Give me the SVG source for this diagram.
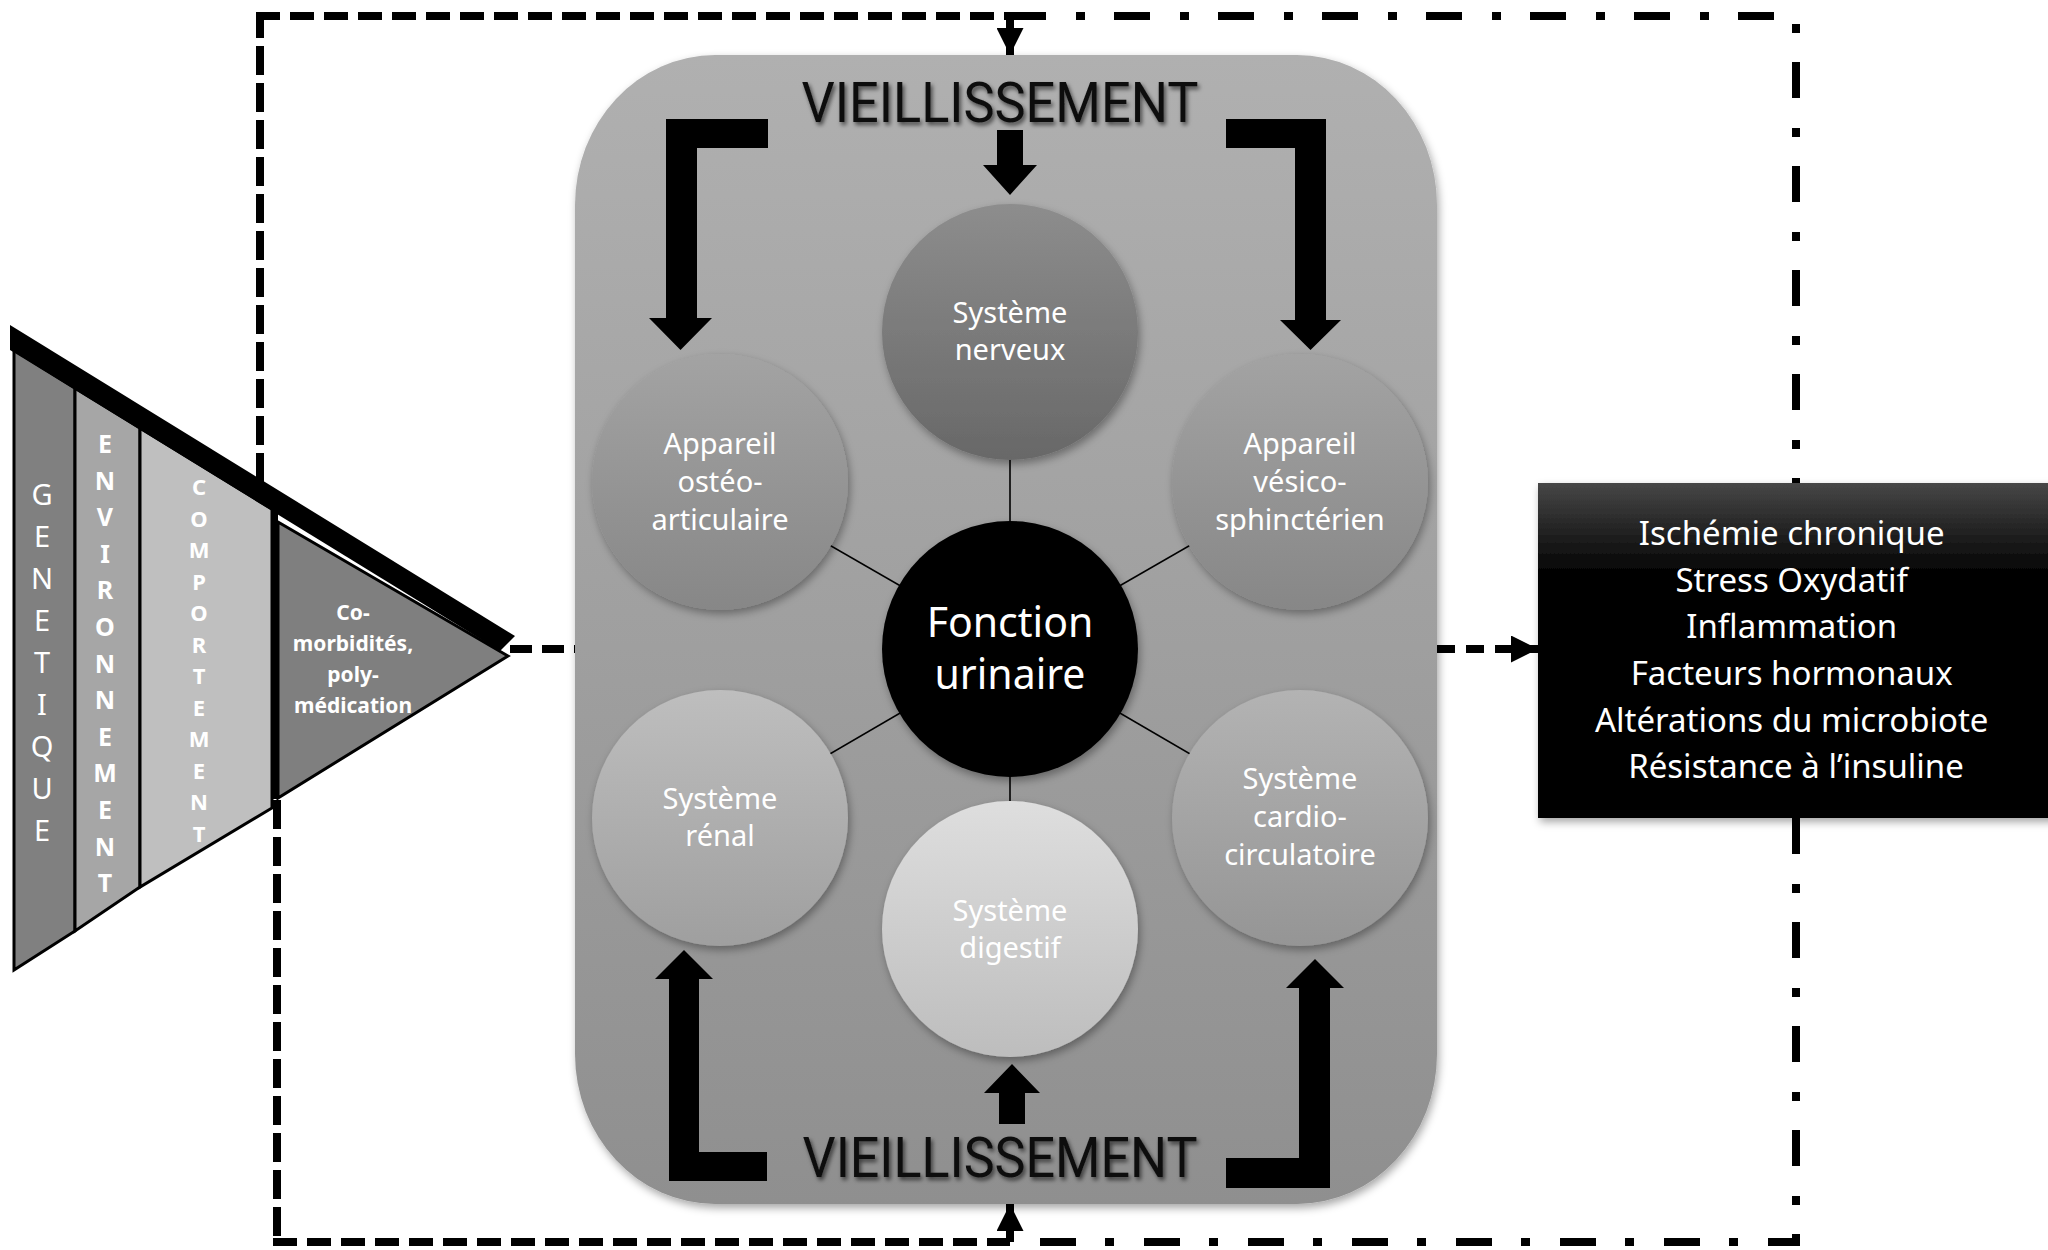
<svg xmlns="http://www.w3.org/2000/svg" width="2048" height="1250" viewBox="0 0 2048 1250">
<style>
.lbl{font-family:"Noto Sans","Open Sans",sans-serif;fill:#fff;text-anchor:middle}
.c{font-size:29px}
.big{font-size:41px}
.box{font-size:33px}
.vert{font-family:"Noto Sans","Open Sans",sans-serif;fill:#fff;text-anchor:middle}
.age{font-family:"Roboto","Liberation Sans",sans-serif;font-size:56px;fill:#111;text-anchor:middle}
.thin{stroke:#000;stroke-width:1.6;fill:none}
.loop{stroke:#000;stroke-width:8;fill:none}
.dh{stroke-dasharray:24 10}
.dv{stroke-dasharray:29 8}
.dd{stroke-dasharray:36 30 9 29}
.blk{fill:#000}
.col{stroke:#000;stroke-width:3;stroke-linejoin:miter}
</style>
<defs>
<linearGradient id="gBox" x1="0" y1="0" x2="0" y2="1"><stop offset="0" stop-color="#b0b0b0"/><stop offset="1" stop-color="#8f8f8f"/></linearGradient>
<linearGradient id="gNerv" x1="0" y1="0" x2="0" y2="1"><stop offset="0" stop-color="#8d8d8d"/><stop offset="1" stop-color="#686868"/></linearGradient>
<linearGradient id="gOst" x1="0" y1="0" x2="0" y2="1"><stop offset="0" stop-color="#a3a3a3"/><stop offset="1" stop-color="#878787"/></linearGradient>
<linearGradient id="gRen" x1="0" y1="0" x2="0" y2="1"><stop offset="0" stop-color="#bebebe"/><stop offset="1" stop-color="#9f9f9f"/></linearGradient>
<linearGradient id="gCar" x1="0" y1="0" x2="0" y2="1"><stop offset="0" stop-color="#b3b3b3"/><stop offset="1" stop-color="#959595"/></linearGradient>
<linearGradient id="gDig" x1="0" y1="0" x2="0" y2="1"><stop offset="0" stop-color="#dedede"/><stop offset="1" stop-color="#bdbdbd"/></linearGradient>
<linearGradient id="gBlack" x1="0" y1="0" x2="0" y2="1"><stop offset="0" stop-color="#474747"/><stop offset="0.28" stop-color="#000"/><stop offset="1" stop-color="#000"/></linearGradient>
<filter id="sh" x="-20%" y="-20%" width="140%" height="140%"><feDropShadow dx="2" dy="4" stdDeviation="4" flood-color="#000" flood-opacity="0.35"/></filter>
<filter id="tsh" x="-10%" y="-30%" width="120%" height="160%"><feDropShadow dx="2" dy="3" stdDeviation="2" flood-color="#000" flood-opacity="0.6"/></filter>
<marker id="ah" viewBox="0 0 10 10" refX="10" refY="5" markerWidth="28" markerHeight="27" markerUnits="userSpaceOnUse" orient="auto"><path d="M0,0 L10,5 L0,10 Z" fill="#000"/></marker>
</defs>
<rect width="2048" height="1250" fill="#fff"/>

<g id="vieillissement-box">
<rect x="575" y="55" width="862" height="1149" rx="140" ry="150" fill="url(#gBox)" filter="url(#sh)"/>
<text class="age" x="1000" y="122" textLength="397" lengthAdjust="spacingAndGlyphs" filter="url(#tsh)">VIEILLISSEMENT</text>
<text class="age" x="1000" y="1177" textLength="395" lengthAdjust="spacingAndGlyphs" filter="url(#tsh)">VIEILLISSEMENT</text>
</g>

<g id="connectors">
<path class="loop dv" d="M260,482 V16"/>
<path class="loop dh" d="M256,16 H1010"/>
<path class="loop dd" d="M1010,16 H1796 V483"/>
<path class="loop dd" d="M1796,818 V1242 H1010"/>
<path class="loop dv" d="M277,800 V1242"/>
<path class="loop dh" d="M273,1242 H1010"/>
<path class="loop" d="M1010,16 V55" stroke-width="5" marker-end="url(#ah)"/>
<path class="loop" d="M1010,1242 V1204" stroke-width="5" marker-end="url(#ah)"/>
<path class="loop" d="M510,649 H575" style="stroke-dasharray:22 10"/>
<path class="loop" d="M1437,649 H1538" style="stroke-dasharray:18 11" marker-end="url(#ah)"/>
<line class="thin" x1="1010" y1="649" x2="1010" y2="332"/>
<line class="thin" x1="1010" y1="649" x2="720" y2="482"/>
<line class="thin" x1="1010" y1="649" x2="1300" y2="482"/>
<line class="thin" x1="1010" y1="649" x2="720" y2="818"/>
<line class="thin" x1="1010" y1="649" x2="1300" y2="818"/>
<line class="thin" x1="1010" y1="649" x2="1010" y2="929"/>
<polygon class="blk" points="666,119 768,119 768,148 697,148 697,318 712,318 680.5,350 649,318 666,318"/>
<polygon class="blk" points="1226,119 1326,119 1326,320 1341,320 1310.5,350 1280,320 1295,320 1295,148 1226,148"/>
<polygon class="blk" points="997,130 1023,130 1023,165 1037,165 1010,195 983,165 997,165"/>
<polygon class="blk" points="669,1181 767,1181 767,1152 699,1152 699,979 713,979 684,950 655,979 669,979"/>
<polygon class="blk" points="1226,1158 1299,1158 1299,988 1286,988 1315,959 1344,988 1330,988 1330,1188 1226,1188"/>
<polygon class="blk" points="999,1124 1025,1124 1025,1093 1040,1093 1012,1064 984,1093 999,1093"/>
</g>

<g id="funnel">
<polygon class="col" fill="#808080" points="14,350 75,388 75,931 14,970"/>
<polygon class="col" fill="#a6a6a6" points="75,388 140,428 140,887 75,931"/>
<polygon class="col" fill="#bfbfbf" points="140,428 272,509 272,808 140,887"/>
<rect x="271" y="509" width="7" height="290" fill="#000"/>
<polygon class="col" fill="#7f7f7f" stroke-width="2" points="278,522 508,656 278,798"/>
<polygon fill="#000" points="10,325 515,636 500,651 10,350"/>
</g>

<g id="genetique">
<text class="vert" font-size="29">
<tspan x="42" y="505">G</tspan><tspan x="42" y="547">E</tspan><tspan x="42" y="589">N</tspan><tspan x="42" y="631">E</tspan><tspan x="42" y="673">T</tspan><tspan x="42" y="715">I</tspan><tspan x="42" y="757">Q</tspan><tspan x="42" y="799">U</tspan><tspan x="42" y="841">E</tspan>
</text>
</g>
<g id="environnement">
<text class="vert" font-size="25" font-weight="bold">
<tspan x="105" y="453">E</tspan><tspan x="105" y="489.6">N</tspan><tspan x="105" y="526.2">V</tspan><tspan x="105" y="562.8">I</tspan><tspan x="105" y="599.4">R</tspan><tspan x="105" y="636">O</tspan><tspan x="105" y="672.6">N</tspan><tspan x="105" y="709.2">N</tspan><tspan x="105" y="745.8">E</tspan><tspan x="105" y="782.4">M</tspan><tspan x="105" y="819">E</tspan><tspan x="105" y="855.6">N</tspan><tspan x="105" y="892.2">T</tspan>
</text>
</g>
<g id="comportement">
<text class="vert" font-size="22" font-weight="bold">
<tspan x="199" y="495">C</tspan><tspan x="199" y="526.5">O</tspan><tspan x="199" y="558">M</tspan><tspan x="199" y="589.5">P</tspan><tspan x="199" y="621">O</tspan><tspan x="199" y="652.5">R</tspan><tspan x="199" y="684">T</tspan><tspan x="199" y="715.5">E</tspan><tspan x="199" y="747">M</tspan><tspan x="199" y="778.5">E</tspan><tspan x="199" y="810">N</tspan><tspan x="199" y="841.5">T</tspan>
</text>
</g>
<g id="comorbidites">
<text class="lbl" font-size="21" font-weight="bold">
<tspan x="353" y="620">Co-</tspan><tspan x="353" y="651">morbidités,</tspan><tspan x="353" y="682">poly-</tspan><tspan x="353" y="713">médication</tspan>
</text>
</g>

<g id="systeme-nerveux">
<circle cx="1010" cy="332" r="128" fill="url(#gNerv)" filter="url(#sh)"/>
<text class="lbl c"><tspan x="1010" y="323">Système</tspan><tspan x="1010" y="360">nerveux</tspan></text>
</g>
<g id="appareil-osteo-articulaire">
<circle cx="720" cy="482" r="128" fill="url(#gOst)" filter="url(#sh)"/>
<text class="lbl c"><tspan x="720" y="454">Appareil</tspan><tspan x="720" y="492">ostéo-</tspan><tspan x="720" y="530">articulaire</tspan></text>
</g>
<g id="appareil-vesico-sphincterien">
<circle cx="1300" cy="482" r="128" fill="url(#gOst)" filter="url(#sh)"/>
<text class="lbl c"><tspan x="1300" y="454">Appareil</tspan><tspan x="1300" y="492">vésico-</tspan><tspan x="1300" y="530">sphinctérien</tspan></text>
</g>
<g id="fonction-urinaire">
<circle cx="1010" cy="649" r="128" fill="#000" filter="url(#sh)"/>
<text class="lbl big"><tspan x="1010" y="637">Fonction</tspan><tspan x="1010" y="689">urinaire</tspan></text>
</g>
<g id="systeme-renal">
<circle cx="720" cy="818" r="128" fill="url(#gRen)" filter="url(#sh)"/>
<text class="lbl c"><tspan x="720" y="809">Système</tspan><tspan x="720" y="846">rénal</tspan></text>
</g>
<g id="systeme-cardio-circulatoire">
<circle cx="1300" cy="818" r="128" fill="url(#gCar)" filter="url(#sh)"/>
<text class="lbl c"><tspan x="1300" y="789">Système</tspan><tspan x="1300" y="827">cardio-</tspan><tspan x="1300" y="865">circulatoire</tspan></text>
</g>
<g id="systeme-digestif">
<circle cx="1010" cy="929" r="128" fill="url(#gDig)" filter="url(#sh)"/>
<text class="lbl c"><tspan x="1010" y="921">Système</tspan><tspan x="1010" y="958">digestif</tspan></text>
</g>

<g id="mecanismes">
<rect x="1538" y="483" width="520" height="335" fill="url(#gBlack)" filter="url(#sh)"/>
<text class="lbl box">
<tspan x="1796" y="545">Ischémie chronique</tspan>
<tspan x="1796" y="592">Stress Oxydatif</tspan>
<tspan x="1796" y="638">Inflammation</tspan>
<tspan x="1796" y="685">Facteurs hormonaux</tspan>
<tspan x="1796" y="732">Altérations du microbiote</tspan>
<tspan x="1796" y="778">Résistance à l’insuline</tspan>
</text>
</g>
</svg>
